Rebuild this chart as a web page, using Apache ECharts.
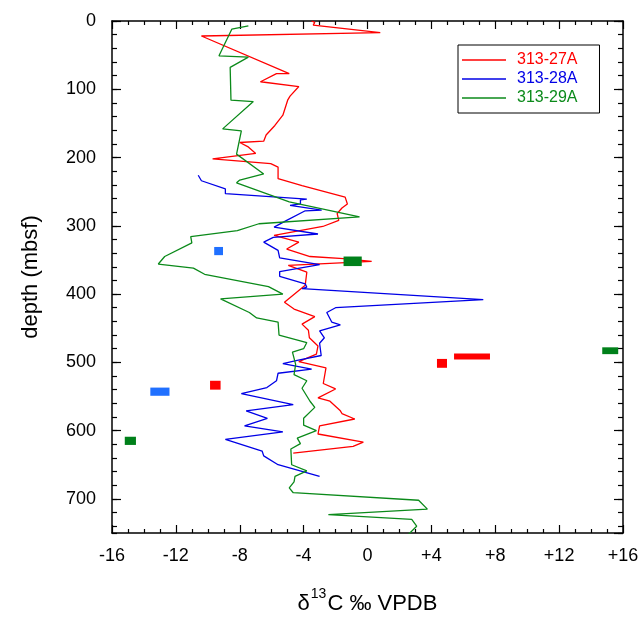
<!DOCTYPE html>
<html>
<head>
<meta charset="utf-8">
<script src="https://cdn.jsdelivr.net/npm/echarts@6/dist/echarts.min.js"></script>
<style>
  html, body { margin: 0; padding: 0; background: #fff; }
  #chart { width: 644px; height: 619px; }
</style>
</head>
<body>
<div id="chart"></div>
<script>
// d13C (per mil VPDB) vs depth (mbsf)
const hole27A = [
  [-3.5, 0], [-3.3, 2], [-3.4, 6], [0.8, 17], [-10.4, 22], [-4.9, 77], [-5.7, 77],
  [-6.7, 89], [-4.3, 96], [-4.85, 110], [-5.0, 116], [-5.3, 138], [-5.8, 153],
  [-6.35, 167], [-6.5, 176], [-8.0, 178], [-7.5, 184], [-7.0, 194], [-9.7, 202],
  [-6.06, 209], [-5.6, 214], [-5.6, 231], [-4.1, 241], [-1.4, 258], [-1.26, 268],
  [-1.6, 274], [-1.9, 282], [-1.8, 292], [-2.8, 301], [-5.85, 314], [-4.3, 324],
  [-5.06, 334], [-3.6, 345], [-1.5, 348], [0.26, 352], [-4.96, 358], [-3.8, 368],
  [-3.9, 387], [-5.2, 412], [-4.6, 422], [-3.3, 433], [-4.1, 444], [-3.7, 453],
  [-3.64, 464], [-3.1, 476], [-3.2, 488], [-4.3, 499], [-2.6, 508], [-2.77, 531],
  [-2.0, 539], [-3.1, 552], [-2.35, 557], [-1.7, 571], [-1.6, 575], [-0.8, 583],
  [-3.0, 593], [-3.1, 605], [-0.26, 617], [-0.9, 623], [-4.65, 633]
];
const hole28A = [
  [-10.6, 226], [-10.4, 234], [-8.9, 246], [-8.9, 253], [-3.8, 261], [-4.2, 262],
  [-4.2, 268], [-4.85, 270], [-2.87, 277], [-3.9, 278], [-5.06, 292], [-5.85, 302],
  [-3.1, 312], [-5.9, 317], [-6.5, 324], [-5.6, 336], [-5.5, 347], [-3.0, 357],
  [-5.5, 367], [-5.5, 374], [-3.9, 385], [-3.8, 390], [-4.1, 392], [7.25, 408],
  [-2.0, 420], [-2.55, 427], [-2.24, 441], [-1.7, 445], [-3.0, 454], [-2.7, 464],
  [-3.0, 472], [-2.9, 490], [-4.4, 497], [-5.3, 502], [-3.5, 510], [-5.6, 516],
  [-5.7, 527], [-6.3, 537], [-7.9, 546], [-4.65, 562], [-7.6, 571], [-6.27, 582],
  [-7.7, 593], [-5.3, 602], [-8.9, 613], [-6.6, 630], [-6.5, 637], [-5.6, 650],
  [-3.0, 667]
];
const hole29A = [
  [-7.46, 7], [-8.5, 12], [-9.3, 51], [-7.46, 53], [-8.6, 68], [-8.55, 116],
  [-7.15, 118], [-9.07, 158], [-7.9, 161], [-8.2, 195], [-6.5, 224], [-8.0, 233],
  [-8.2, 237], [-4.9, 265], [-0.5, 287], [-6.8, 297], [-8.15, 307], [-11.07, 316],
  [-11.0, 325], [-12.7, 345], [-13.1, 356], [-10.9, 362], [-10.2, 371], [-6.2, 389],
  [-5.3, 400], [-9.2, 407], [-7.4, 427], [-6.94, 435], [-5.6, 441], [-5.54, 460],
  [-3.8, 471], [-4.0, 480], [-4.7, 485], [-4.5, 503], [-4.6, 518], [-3.8, 527],
  [-4.1, 538], [-3.6, 557], [-3.3, 566], [-4.0, 582], [-4.0, 592], [-3.2, 600],
  [-4.4, 611], [-4.2, 619], [-4.8, 627], [-4.75, 650], [-3.8, 659], [-4.54, 667],
  [-4.6, 675], [-4.9, 684], [-4.65, 691], [3.2, 702], [3.75, 715], [-2.45, 723],
  [2.77, 730], [3.08, 740], [2.56, 752]
];

// other samples drawn as boxes: [d13C min, d13C max, depth top, depth bottom]
const redBoxes = [[-9.86, -9.2, 527, 540], [4.35, 4.98, 495, 508], [5.42, 7.67, 487, 496]];
const blueBoxes = [[-9.6, -9.05, 331, 343], [-13.6, -12.4, 537, 549]];
const greenBoxes = [[-1.5, -0.36, 345, 359], [-15.2, -14.5, 609, 621], [14.7, 15.7, 478, 488]];

const xTicks = { min: -16, max: 16, interval: 4 };
const depthRange = { min: 0, max: 750 };

const RED = '#ff0000';
const BLUE = '#0000e6';
const GREEN = '#0b8a1a';
const FONT = 'Liberation Sans, Arial, sans-serif';

const chart = echarts.init(document.getElementById('chart'), null, { renderer: 'canvas' });

const boxSeries = (data, color) => ({
  type: 'custom',
  data: data,
  encode: { x: [0, 1], y: [2, 3] },
  silent: true,
  renderItem: (params, api) => {
    const a = api.coord([api.value(0), api.value(2)]);
    const b = api.coord([api.value(1), api.value(3)]);
    return {
      type: 'rect',
      shape: {
        x: Math.min(a[0], b[0]), y: Math.min(a[1], b[1]),
        width: Math.abs(b[0] - a[0]), height: Math.abs(b[1] - a[1])
      },
      style: { fill: color }
    };
  },
  z: 3
});

const lineSeries = (name, data, color) => ({
  name: name,
  type: 'line',
  data: data,
  symbol: 'none',
  lineStyle: { color: color, width: 1.3 },
  itemStyle: { color: color },
  z: 2
});

const axisLine = { show: true, onZero: false, lineStyle: { color: '#000', width: 1.5 } };

const yBase = {
  type: 'value',
  inverse: true,
  min: depthRange.min,
  max: depthRange.max,
  splitLine: { show: false },
  axisLine: axisLine
};

const xBase = {
  type: 'value',
  min: xTicks.min,
  max: xTicks.max,
  interval: xTicks.interval,
  splitLine: { show: false },
  minorSplitLine: { show: false },
  axisLine: axisLine,
  axisTick: { show: true, inside: true, length: 8, lineStyle: { color: '#000', width: 1.2 } },
  minorTick: { show: true, splitNumber: 4, length: 4, lineStyle: { color: '#000', width: 1.2 } }
};

const noLine = { show: false, onZero: false };

const option = {
  animation: false,
  backgroundColor: '#fff',
  grid: { left: 112, right: 21, top: 21, bottom: 86, outerBoundsMode: 'none' },
  legend: {
    orient: 'vertical',
    left: 458,
    top: 45,
    padding: [7, 22, 7, 4],
    borderColor: '#000',
    borderWidth: 1,
    itemWidth: 44,
    itemHeight: 1.3,
    itemGap: 3,
    icon: 'rect',
    textStyle: { fontFamily: FONT, fontSize: 16, padding: [0, 0, 0, 6] },
    data: [
      { name: '313-27A', itemStyle: { color: RED }, textStyle: { color: RED } },
      { name: '313-28A', itemStyle: { color: BLUE }, textStyle: { color: BLUE } },
      { name: '313-29A', itemStyle: { color: GREEN }, textStyle: { color: GREEN } }
    ]
  },
  xAxis: [
    Object.assign({}, xBase, {
      position: 'bottom',
      axisLabel: {
        margin: 14,
        color: '#000',
        fontFamily: FONT,
        fontSize: 18,
        formatter: v => (v > 0 ? '+' + v : '' + v)
      },
      name: '{t|δ}{sup|13}{t|C ‰ VPDB}',
      nameLocation: 'middle',
      nameGap: 54,
      nameTextStyle: {
        rich: {
          t: { fontFamily: FONT, fontSize: 22, color: '#000', lineHeight: 28, verticalAlign: 'bottom' },
          sup: { fontFamily: FONT, fontSize: 14, color: '#000', lineHeight: 28, verticalAlign: 'top', padding: [0, 1, 0, 1] }
        }
      }
    }),
    Object.assign({}, xBase, { position: 'top', axisLabel: { show: false } })
  ],
  yAxis: [
    Object.assign({}, yBase, {
      position: 'left',
      interval: 100,
      axisTick: { show: true, inside: true, length: 9, lineStyle: { color: '#000', width: 1.2 } },
      axisLabel: { margin: 16, color: '#000', fontFamily: FONT, fontSize: 18, showMaxLabel: false },
      name: 'depth (mbsf)',
      nameLocation: 'middle',
      nameRotate: 90,
      nameGap: 70,
      nameTextStyle: { fontFamily: FONT, fontSize: 22, color: '#000' }
    }),
    Object.assign({}, yBase, {
      position: 'left',
      interval: 20,
      axisLine: noLine,
      axisTick: { show: true, inside: true, length: 5, lineStyle: { color: '#000', width: 1.2 } },
      axisLabel: { show: false }
    }),
    Object.assign({}, yBase, {
      position: 'right',
      interval: 100,
      axisTick: { show: true, inside: true, length: 9, lineStyle: { color: '#000', width: 1.2 } },
      axisLabel: { show: false }
    }),
    Object.assign({}, yBase, {
      position: 'right',
      interval: 20,
      axisLine: noLine,
      axisTick: { show: true, inside: true, length: 5, lineStyle: { color: '#000', width: 1.2 } },
      axisLabel: { show: false }
    })
  ],
  series: [
    lineSeries('313-27A', hole27A, RED),
    lineSeries('313-28A', hole28A, BLUE),
    lineSeries('313-29A', hole29A, GREEN),
    boxSeries(redBoxes, RED),
    boxSeries(blueBoxes, '#2070ff'),
    boxSeries(greenBoxes, '#00801a')
  ]
};

chart.setOption(option);
</script>
</body>
</html>
